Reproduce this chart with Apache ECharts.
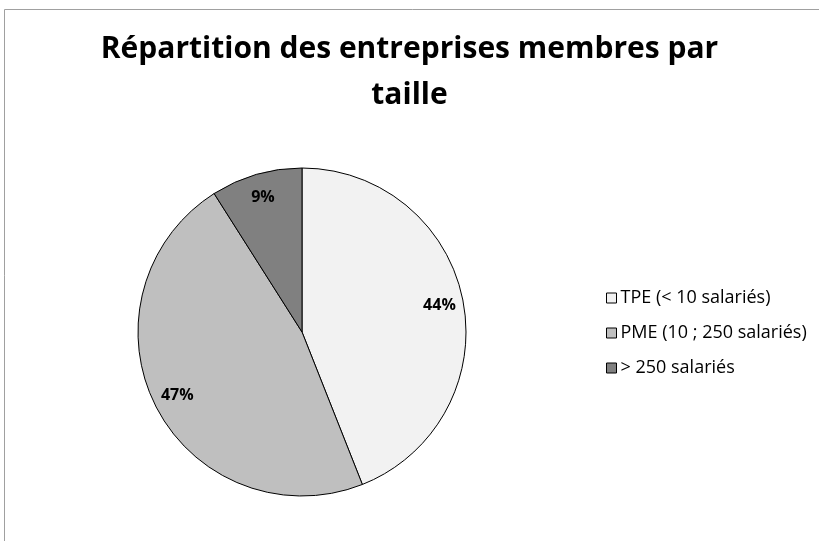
<!DOCTYPE html>
<html>
<head>
<meta charset="utf-8">
<script src="https://cdn.jsdelivr.net/npm/echarts@6/dist/echarts.min.js"></script>
<style>
  html, body { margin: 0; padding: 0; background: #fff; }
  #chart { width: 819px; height: 541px; }
</style>
</head>
<body>
<div id="chart"></div>
<script>
// données
var categories = ['TPE (< 10 salariés)', 'PME (10 ; 250 salariés)', '> 250 salariés']
var values = [44, 47, 9]
var colors = ['#f2f2f2', '#bfbfbf', '#808080']

var myChart = echarts.init(document.getElementById('chart'))

var pieData = categories.map(function (name, i) {
    return {name: name, value: values[i], itemStyle: {color: colors[i]}}
})

var center = [302, 332]
var radius = 164

myChart.setOption({
    animation: false,
    title: {
        text: 'Répartition des entreprises membres par\ntaille',
        left: 'center',
        top: 26,
        padding: [0, 0, 0, 17],
        textStyle: {
            fontFamily: 'Open Sans',
            fontWeight: 'bold',
            fontSize: 30,
            lineHeight: 46,
            color: '#000'
        }
    },
    legend: {
        orient: 'vertical',
        left: 601,
        top: 284,
        itemWidth: 10,
        itemHeight: 10,
        itemGap: 17,
        icon: 'rect',
        data: categories,
        textStyle: {fontFamily: 'Open Sans', fontSize: 18, color: '#000', padding: [0, 0, 0, -1]},
        itemStyle: {borderColor: '#000', borderWidth: 1}
    },
    graphic: [{
        type: 'polyline',
        shape: {points: [[4.5, 545], [4.5, 9.5], [825, 9.5]]},
        style: {stroke: '#a0a0a0', lineWidth: 1, fill: null}
    }],
    series: [
        {
            type: 'pie',
            center: center,
            radius: radius,
            startAngle: 90,
            clockwise: true,
            silent: true,
            label: {show: false},
            labelLine: {show: false},
            itemStyle: {borderColor: '#000', borderWidth: 1},
            data: pieData
        },
        {
            // série transparente pour placer les étiquettes vers le bord
            type: 'pie',
            center: center,
            radius: [radius * 0.67, radius],
            startAngle: 90,
            clockwise: true,
            silent: true,
            legendHoverLink: false,
            itemStyle: {color: 'transparent', borderWidth: 0},
            label: {
                show: true,
                position: 'inside',
                formatter: '{d}%',
                fontFamily: 'Open Sans',
                fontWeight: 'bold',
                fontSize: 16,
                color: '#000'
            },
            labelLine: {show: false},
            data: categories.map(function (name, i) {
                return {name: name + ' ', value: values[i]}
            })
        }
    ]
})
</script>
</body>
</html>
